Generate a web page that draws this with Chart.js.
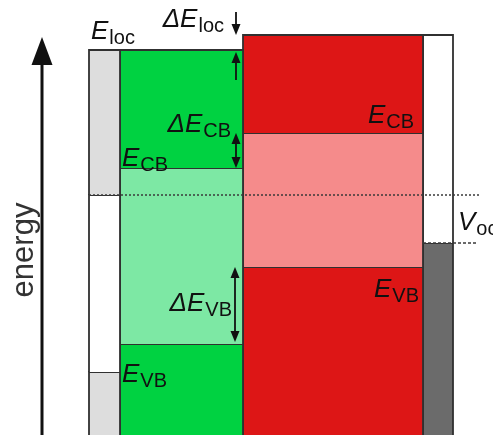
<!DOCTYPE html>
<html>
<head>
<meta charset="utf-8">
<script src="https://cdn.jsdelivr.net/npm/chart.js@4.4.0/dist/chart.umd.min.js"></script>
<style>
    html, body { margin: 0; padding: 0; background: #fff; }
</style>
</head>
<body>
<canvas id="bandCanvas" width="493" height="439"></canvas>
<script>
// device layers and their edges along the stack (a.u.)
var layerNames = ['left contact', 'absorber', 'transport layer', 'right contact'];
var layerEdges = [0, 31, 154, 334, 364];
// energy levels (eV, arbitrary zero)
var absorberLevels = [3.85, 2.67, 0.91];   // E_loc, E_CB, E_VB
var transportLevels = [4.00, 3.02, 1.68];  // top, E_CB, E_VB
var fermiLevels = [2.40, 1.92];            // left contact, right contact
var contactLevels = [0.63];                // lower edge of the left contact gap

var colors = {
    green: '#00d241',
    lightGreen: '#7de8a4',
    red: '#dd1616',
    pink: '#f58b8b',
    lightGrey: '#dddddd',
    darkGrey: '#6b6b6b',
    white: '#ffffff',
    line: '#303030'
};

var FONT = '"Liberation Sans", Arial, sans-serif';
var MAIN_SIZE = 26;
var SUB_SIZE = 20;

// a filled box between two energies
var box = function (x0, x1, bottom, top, color) {
    return {
        data: [{ x: x0, y: bottom }, { x: x0, y: top }, { x: x1, y: top }, { x: x1, y: bottom }],
        fill: { target: { value: bottom } },
        backgroundColor: color,
        borderColor: colors.line,
        borderWidth: 1.8,
        pointRadius: 0,
        tension: 0,
        clip: false,
        order: 2
    };
};

var level = function (x0, x1, y, dash) {
    return {
        data: [{ x: x0, y: y }, { x: x1, y: y }],
        fill: false,
        borderColor: '#3a3a3a',
        borderWidth: 1.6,
        borderDash: dash,
        pointRadius: 0,
        clip: false,
        order: 1
    };
};

var e = layerEdges;
var datasets = [
    level(e[0], e[4] + 27, fermiLevels[0], [2, 2]),
    level(e[3], e[4] + 25, fermiLevels[1], [3, 2]),
    // left contact
    box(e[0], e[1], fermiLevels[0], absorberLevels[0], colors.lightGrey),
    box(e[0], e[1], contactLevels[0], fermiLevels[0], colors.white),
    box(e[0], e[1], 0, contactLevels[0], colors.lightGrey),
    // absorber
    box(e[1], e[2], absorberLevels[1], absorberLevels[0], colors.green),
    box(e[1], e[2], absorberLevels[2], absorberLevels[1], colors.lightGreen),
    box(e[1], e[2], 0, absorberLevels[2], colors.green),
    // transport layer
    box(e[2], e[3], transportLevels[1], transportLevels[0], colors.red),
    box(e[2], e[3], transportLevels[2], transportLevels[1], colors.pink),
    box(e[2], e[3], 0, transportLevels[2], colors.red),
    // right contact
    box(e[3], e[4], fermiLevels[1], transportLevels[0], colors.white),
    box(e[3], e[4], 0, fermiLevels[1], colors.darkGrey)
];

// E with subscript, optional leading delta
function drawSymbol(ctx, delta, sub, x, y, align) {
    var main = (delta ? '\u0394' : '') + 'E';
    ctx.font = 'italic ' + MAIN_SIZE + 'px ' + FONT;
    var w1 = ctx.measureText(main).width;
    ctx.font = SUB_SIZE + 'px ' + FONT;
    var w2 = ctx.measureText(sub).width;
    var left = align === 'right' ? x - w1 - w2 - 1 : x;
    ctx.textAlign = 'left';
    ctx.textBaseline = 'alphabetic';
    ctx.font = 'italic ' + MAIN_SIZE + 'px ' + FONT;
    ctx.fillText(main, left, y);
    ctx.font = SUB_SIZE + 'px ' + FONT;
    ctx.fillText(sub, left + w1 + 1, y + 5);
}

function arrowHead(ctx, x, tipY, dir, w, h) { // dir -1 up, 1 down
    ctx.beginPath();
    ctx.moveTo(x, tipY);
    ctx.lineTo(x - w / 2, tipY - dir * h);
    ctx.lineTo(x + w / 2, tipY - dir * h);
    ctx.closePath();
    ctx.fill();
}

function arrow(ctx, x, fromY, toY, both) {
    var dir = toY > fromY ? 1 : -1;
    ctx.lineWidth = 1.8;
    ctx.beginPath();
    ctx.moveTo(x, fromY + (both ? dir * 6 : 0));
    ctx.lineTo(x, toY - dir * 6);
    ctx.stroke();
    arrowHead(ctx, x, toY, dir, 9, 11);
    if (both) arrowHead(ctx, x, fromY, -dir, 9, 11);
}

var bandLabels = {
    id: 'bandLabels',
    afterDatasetsDraw: function (chart) {
        var ctx = chart.ctx;
        var xs = chart.scales.x;
        var ys = chart.scales.y;
        var area = chart.chartArea;
        ctx.save();
        ctx.fillStyle = '#111';
        ctx.strokeStyle = '#111';

        // energy axis
        var ax = area.left - 47;
        ctx.lineWidth = 3;
        ctx.beginPath();
        ctx.moveTo(ax, area.bottom);
        ctx.lineTo(ax, area.top + 26);
        ctx.stroke();
        arrowHead(ctx, ax, area.top + 2, -1, 21, 28);
        ctx.save();
        ctx.translate(area.left - 56, (area.top + area.bottom) / 2 + 15);
        ctx.rotate(-Math.PI / 2);
        ctx.font = '31px ' + FONT;
        ctx.textAlign = 'center';
        ctx.textBaseline = 'alphabetic';
        ctx.fillStyle = '#333';
        ctx.fillText('energy', 0, 0);
        ctx.restore();

        // level labels
        var gx = xs.getPixelForValue(e[1]);
        var rx = xs.getPixelForValue(e[3]);
        var dx = xs.getPixelForValue(e[2]) - 7;
        drawSymbol(ctx, false, 'loc', area.left + 2, ys.getPixelForValue(absorberLevels[0]) - 11);
        drawSymbol(ctx, false, 'CB', gx + 2, ys.getPixelForValue(absorberLevels[1]) - 2);
        drawSymbol(ctx, false, 'VB', gx + 2, ys.getPixelForValue(absorberLevels[2]) + 38);
        drawSymbol(ctx, false, 'CB', rx - 9, ys.getPixelForValue(transportLevels[1]) - 10, 'right');
        drawSymbol(ctx, false, 'VB', rx - 4, ys.getPixelForValue(transportLevels[2]) + 30, 'right');

        // offsets
        var yTop = ys.getPixelForValue(transportLevels[0]);
        var yLoc = ys.getPixelForValue(absorberLevels[0]);
        drawSymbol(ctx, true, 'loc', dx - 12, yTop - 8, 'right');
        arrow(ctx, dx, yTop - 23, yTop, false);
        arrow(ctx, dx, yLoc + 30, yLoc + 2, false);

        var yCBr = ys.getPixelForValue(transportLevels[1]);
        var yCBg = ys.getPixelForValue(absorberLevels[1]);
        drawSymbol(ctx, true, 'CB', dx - 5, yCBr - 1, 'right');
        arrow(ctx, dx, yCBr, yCBg, true);

        var yVBr = ys.getPixelForValue(transportLevels[2]);
        var yVBg = ys.getPixelForValue(absorberLevels[2]);
        drawSymbol(ctx, true, 'VB', dx - 4, (yVBr + yVBg) / 2 + 5, 'right');
        arrow(ctx, dx - 1, yVBr, yVBg - 2, true);

        // open-circuit voltage
        var yF1 = ys.getPixelForValue(fermiLevels[0]);
        var yF2 = ys.getPixelForValue(fermiLevels[1]);
        var vx = xs.getPixelForValue(e[4]) + 5;
        ctx.font = 'italic ' + MAIN_SIZE + 'px ' + FONT;
        ctx.textAlign = 'left';
        ctx.fillText('V', vx, (yF1 + yF2) / 2 + 11);
        var vw = ctx.measureText('V').width;
        ctx.font = SUB_SIZE + 'px ' + FONT;
        ctx.fillText('oc', vx + vw + 1, (yF1 + yF2) / 2 + 16);

        ctx.restore();
    }
};

window.onload = function () {
    var ctx = document.getElementById('bandCanvas').getContext('2d');
    window.bandChart = new Chart(ctx, {
        type: 'line',
        data: { datasets: datasets },
        options: {
            responsive: false,
            animation: false,
            layout: { padding: { left: 89, right: 40, top: 35, bottom: 4 } },
            scales: {
                x: { type: 'linear', min: e[0], max: e[4], display: false },
                y: { type: 'linear', min: 0, max: transportLevels[0], display: false }
            },
            plugins: {
                legend: { display: false },
                tooltip: { enabled: false }
            }
        },
        plugins: [bandLabels]
    });
};
</script>
</body>
</html>
